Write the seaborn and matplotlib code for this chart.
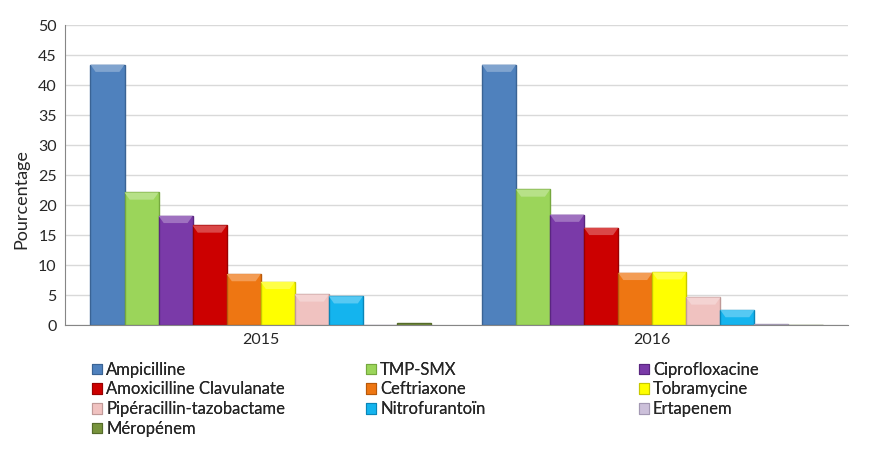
import numpy as np
import pandas as pd
import matplotlib
matplotlib.use('Agg')
import matplotlib.pyplot as plt
from matplotlib.patches import Patch, Polygon
from matplotlib.colors import to_rgb
import seaborn as sns

# Data
years = ['2015', '2016']
antibiotics = ['Ampicilline', 'TMP-SMX', 'Ciprofloxacine', 'Amoxicilline Clavulanate',
               'Ceftriaxone', 'Tobramycine', 'Pipéracillin-tazobactame', 'Nitrofurantoïn',
               'Ertapenem', 'Méropénem']
values_2015 = [43.4, 22.1, 18.2, 16.6, 8.5, 7.2, 5.1, 4.8, 0.0, 0.4]
values_2016 = [43.4, 22.6, 18.4, 16.2, 8.7, 8.8, 4.6, 2.5, 0.1, 0.0]

colors = ['#4F81BD', '#9BD55A', '#7A3AA8', '#CC0000', '#EE7612', '#FFFF00',
          '#F0C2C0', '#14B4EE', '#CCC0DA', '#77933C']
edges = ['#3A6394', '#76A83F', '#5A2680', '#990000', '#B8590A', '#C8C800',
         '#C09A98', '#0A86B8', '#A398B3', '#556B2A']

df = pd.DataFrame({
    'year': np.repeat(years, len(antibiotics)),
    'antibiotic': antibiotics * len(years),
    'value': values_2015 + values_2016,
})

sns.set_style('white')
plt.rcParams['font.family'] = ['Lato', 'DejaVu Sans']

fig = plt.figure(figsize=(8.86, 4.65), dpi=100)
ax = fig.add_axes([0.0734, 0.301, 0.8837, 0.645])

sns.barplot(data=df, x='year', y='value', hue='antibiotic', hue_order=antibiotics,
            palette=colors, width=0.87, ax=ax, legend=False, saturation=1)

# darker outline and a light top bevel per bar, like the Excel 3D style
for i, bar in enumerate(ax.patches):
    k = i // len(years)
    bar.set_edgecolor(edges[k])
    bar.set_linewidth(1.0)
    x0, w, h = bar.get_x(), bar.get_width(), bar.get_height()
    if h > 1.5:
        light = tuple(0.72 * np.array(to_rgb(colors[k])) + 0.28)
        inset, drop = w * 0.15, 1.2
        bevel = Polygon([(x0, h), (x0 + w, h), (x0 + w - inset, h - drop), (x0 + inset, h - drop)],
                        closed=True, facecolor=light, edgecolor='none', zorder=bar.get_zorder() + 0.1)
        ax.add_patch(bevel)

ax.set_ylim(0, 50)
ax.set_yticks(range(0, 51, 5))
ax.set_xlim(-0.5, 1.5)
ax.yaxis.grid(True, color='#D9D9D9', linewidth=1)
ax.set_axisbelow(True)
for s in ['top', 'right']:
    ax.spines[s].set_visible(False)
for s in ['left', 'bottom']:
    ax.spines[s].set_color('#868686')
ax.tick_params(axis='both', length=0, labelsize=11.5, pad=6)
ax.set_xlabel('')
ax.set_ylabel('Pourcentage', fontsize=13)
ax.yaxis.set_label_coords(-0.045, 0.42)

# legend: three columns placed like the original, filled row by row
handles = [Patch(facecolor=c, edgecolor=e, linewidth=0.8) for c, e in zip(colors, edges)]
col_x = [0.104, 0.413, 0.721]
for c in range(3):
    idx = list(range(c, len(antibiotics), 3))
    leg = fig.legend([handles[i] for i in idx], [antibiotics[i] for i in idx],
                     loc='upper left', bbox_to_anchor=(col_x[c], 0.222), frameon=False,
                     fontsize=12, handlelength=0.6, handleheight=0.6, handletextpad=0.25,
                     labelspacing=0.22, borderpad=0, borderaxespad=0)
    fig.add_artist(leg)

fig.savefig('out.png', dpi=100)
